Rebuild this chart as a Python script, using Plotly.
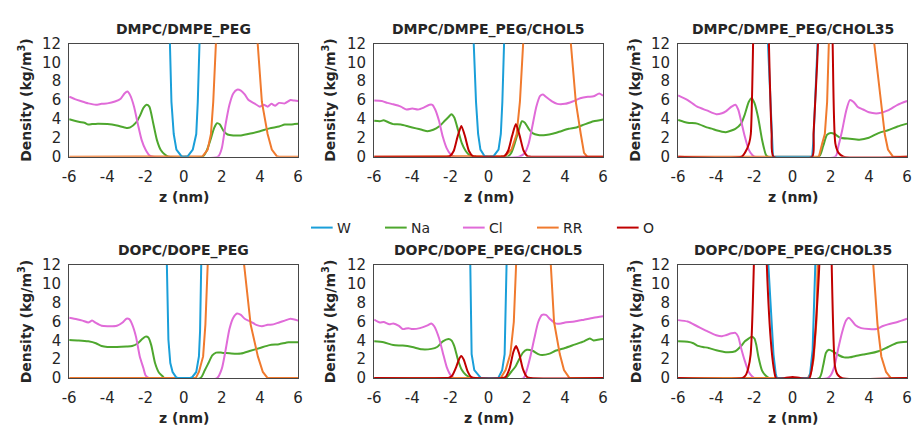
import plotly.graph_objects as go

# ---------------- data: density profiles, z in nm, density in kg/m^3 ----------------
# Panel titles
panel_titles = ["DMPC/DMPE_PEG", "DMPC/DMPE_PEG/CHOL5", "DMPC/DMPE_PEG/CHOL35",
                "DOPC/DOPE_PEG", "DOPC/DOPE_PEG/CHOL5", "DOPC/DOPE_PEG/CHOL35"]
series_names = ["W", "Na", "Cl", "RR", "O"]
draw_order = ["Na", "Cl", "RR", "W", "O"]
x_ticks = [-6, -4, -2, 0, 2, 4, 6]
x_tick_labels = ["-6", "-4", "-2", "0", "2", "4", "6"]
y_ticks = [0, 2, 4, 6, 8, 10, 12]

# --- DMPC/DMPE_PEG ---
p1_w_z = [-6, -1.2, -0.72, -0.64, -0.52, -0.38, -0.12, 0, 0.22, 0.48, 0.66, 0.74, 0.83, 1.3, 6]
p1_w = [30, 30, 12, 5.8, 2.4, 0.75, 0.05, 0, 0.05, 0.75, 2.4, 5.8, 12, 30, 30]
p1_na_z = [-6, -5.5, -5.2, -5.0, -4.8, -4.5, -4.0, -3.5, -3.0, -2.8, -2.5, -2.3, -2.1, -1.95, -1.8, -1.6,
           -1.4, -1.2, -1.0, -0.8, 1.0, 1.2, 1.4, 1.6, 1.75, 1.9, 2.1, 2.3, 2.6, 3.0, 3.5, 4.0, 4.5,
           5.0, 5.3, 5.6, 5.8, 6.0]
p1_na = [3.97, 3.7, 3.6, 3.4, 3.45, 3.5, 3.45, 3.3, 3.05, 3.1, 3.6, 4.3, 5.2, 5.5, 5.3, 3.6,
         1.75, 0.7, 0.25, 0, 0, 0.6, 1.75, 3.05, 3.55, 3.4, 2.7, 2.35, 2.25, 2.25, 2.45, 2.7, 3.0,
         3.2, 3.4, 3.4, 3.45, 3.5]
p1_cl_z = [-6, -5.7, -5.4, -5.0, -4.6, -4.3, -4.0, -3.6, -3.3, -3.1, -2.95, -2.8, -2.6, -2.4, -2.2,
           -2.0, -1.8, -1.6, 1.8, 2.0, 2.2, 2.4, 2.6, 2.8, 3.0, 3.2, 3.4, 3.7, 4.0, 4.2, 4.4, 4.6,
           4.8, 5.0, 5.3, 5.6, 5.8, 6.0]
p1_cl = [6.35, 6.1, 5.9, 5.65, 5.5, 5.6, 5.65, 5.85, 6.15, 6.7, 6.9, 6.5, 5.3, 3.45, 1.75,
         0.75, 0.15, 0, 0, 0.9, 3.45, 5.5, 6.7, 7.1, 7.0, 6.6, 6.0, 5.65, 5.3, 5.5, 5.3, 5.6,
         5.4, 5.7, 5.65, 6.0, 5.95, 5.9]
p1_rr_z = [-6, 0.95, 1.0, 1.26, 1.43, 1.55, 1.69, 1.8, 3.75, 3.88, 4.1, 4.4, 4.62, 4.88, 5.0, 6]
p1_rr = [0, 0, 0.05, 0.75, 2.4, 5.8, 12, 30, 30, 12, 5.8, 2.4, 0.75, 0.05, 0, 0]

# --- DMPC/DMPE_PEG/CHOL5 ---
p2_w_z = [-6, -1.2, -0.78, -0.66, -0.55, -0.43, -0.21, 0, 0.26, 0.52, 0.64, 0.72, 0.81, 1.2, 6]
p2_w = [30, 30, 12, 5.8, 2.4, 0.75, 0.05, 0, 0.05, 0.75, 2.4, 5.8, 12, 30, 30]
p2_na_z = [-6, -5.7, -5.5, -5.2, -5.0, -4.6, -4.2, -3.8, -3.5, -3.2, -2.9, -2.6, -2.3, -2.1, -1.95,
           -1.8, -1.6, -1.4, -1.2, -1.0, -0.8, 1.0, 1.2, 1.4, 1.6, 1.75, 1.9, 2.1, 2.3, 2.6, 3.0,
           3.4, 3.8, 4.2, 4.6, 5.0, 5.5, 6.0]
p2_na = [3.8, 3.75, 3.85, 3.6, 3.45, 3.4, 3.2, 3.0, 2.85, 2.7, 2.85, 3.2, 3.8, 4.2, 4.5,
         4.15, 2.8, 1.4, 0.6, 0.15, 0, 0, 0.45, 1.6, 2.95, 3.75, 3.6, 2.95, 2.5, 2.3, 2.3,
         2.45, 2.7, 2.95, 3.1, 3.4, 3.75, 3.95]
p2_cl_z = [-6, -5.6, -5.3, -5.0, -4.6, -4.3, -4.0, -3.7, -3.4, -3.1, -2.95, -2.8, -2.6, -2.4, -2.2,
           -2.0, -1.8, 1.6, 1.9, 2.1, 2.3, 2.5, 2.7, 2.85, 3.0, 3.3, 3.6, 4.0, 4.4, 4.8, 5.2, 5.5,
           5.8, 6.0]
p2_cl = [5.95, 5.9, 5.7, 5.55, 5.3, 5.0, 5.1, 5.0, 5.2, 5.5, 5.5, 5.0, 3.8, 2.1, 0.9,
         0.25, 0, 0, 0.4, 1.4, 3.3, 5.3, 6.45, 6.6, 6.35, 5.9, 5.6, 5.6, 5.85, 6.2, 6.35, 6.4,
         6.7, 6.45]
p2_rr_z = [-6, 0.75, 0.86, 1.2, 1.47, 1.64, 1.81, 1.95, 4.15, 4.31, 4.57, 4.83, 5.0, 5.17, 6]
p2_rr = [0, 0, 0.07, 0.75, 2.4, 5.8, 12, 30, 30, 12, 5.8, 2.4, 0.4, 0, 0]
p2_o_z = [-6, -2.2, -2.03, -1.83, -1.63, -1.43, -1.23, -1.03, -0.83, -0.65, 0.65, 0.83, 1.03,
          1.23, 1.43, 1.63, 1.83, 2.03, 2.2, 6]
p2_o = [0, 0, 0.06, 0.6, 2.1, 3.25, 2.1, 0.6, 0.06, 0, 0, 0.06, 0.65, 2.2, 3.45, 2.2, 0.65,
        0.06, 0, 0]

# --- DMPC/DMPE_PEG/CHOL35 ---
p3_w_z = [-6, -1.5, -1.29, -1.1, -1.03, 1.03, 1.1, 1.31, 1.5, 6]
p3_w = [30, 30, 12, 2, 0, 0, 2, 12, 30, 30]
p3_na_z = [-6, -5.5, -5.0, -4.5, -4.2, -4.0, -3.5, -3.0, -2.7, -2.5, -2.3, -2.15, -2.0, -1.8, -1.6,
           -1.4, -1.3, 1.38, 1.6, 1.8, 2.0, 2.2, 2.5, 3.0, 3.5, 4.0, 4.5, 5.0, 5.5, 6.0]
p3_na = [3.9, 3.6, 3.5, 3.1, 2.95, 2.8, 2.6, 2.95, 3.5, 4.5, 5.8, 6.2, 5.7, 4.1, 1.8,
         0.2, 0, 0, 1.1, 2.3, 2.5, 2.4, 2.0, 1.9, 1.8, 2.0, 2.5, 2.8, 3.2, 3.5]
p3_cl_z = [-6, -5.5, -5.0, -4.5, -4.0, -3.7, -3.5, -3.2, -3.0, -2.85, -2.7, -2.5, -2.3, -2.1, -2.0,
           2.24, 2.4, 2.6, 2.8, 3.0, 3.2, 3.4, 3.7, 4.0, 4.5, 5.0, 5.5, 6.0]
p3_cl = [6.5, 6.0, 5.3, 4.9, 4.5, 4.6, 4.8, 5.3, 5.5, 5.0, 3.8, 2.1, 0.75, 0.15, 0,
         0, 1.1, 2.8, 4.8, 6.0, 5.8, 5.3, 5.0, 4.7, 4.6, 4.9, 5.5, 5.9]
p3_rr_z = [-6, 1.38, 1.55, 1.69, 1.81, 1.9, 2.05, 4.12, 4.28, 4.45, 4.62, 4.83, 5.0, 5.26, 6]
p3_rr = [0, 0, 1.4, 2.4, 5.8, 12, 30, 30, 12, 9.2, 5.8, 2.4, 0.75, 0, 0]
p3_o_z = [-6, -2.67, -2.5, -2.28, -2.19, -2.07, -1.95, -1.4, -1.24, -1.1, -1.0, 1.03, 1.1, 1.33,
          1.45, 1.95, 2.1, 2.24, 2.41, 2.67, 6]
p3_o = [0, 0, 0.4, 1.4, 2.4, 12, 30, 30, 12, 2.5, 0, 0, 2.5, 12, 30, 30, 12, 1.4, 0.4, 0, 0]

# --- DOPC/DOPE_PEG ---
p4_w_z = [-6, -1.3, -0.88, -0.8, -0.7, -0.58, -0.4, -0.3, 0.3, 0.45, 0.66, 0.8, 0.86, 0.92, 1.3, 6]
p4_w = [30, 30, 12, 4.1, 1.6, 0.65, 0.1, 0, 0, 0.1, 0.65, 2.3, 5, 12, 30, 30]
p4_na_z = [-6, -5.5, -5.0, -4.6, -4.3, -4.0, -3.5, -3.0, -2.7, -2.4, -2.2, -2.0, -1.85, -1.7, -1.5,
           -1.3, -1.1, -1.0, 0.88, 1.1, 1.3, 1.5, 1.7, 2.0, 2.5, 3.0, 3.5, 4.0, 4.5, 5.0, 5.5, 6.0]
p4_na = [4.05, 4.0, 3.9, 3.7, 3.4, 3.3, 3.3, 3.35, 3.4, 3.7, 4.1, 4.4, 4.3, 3.5, 1.6,
         0.6, 0.2, 0, 0, 0.8, 1.6, 2.4, 2.7, 2.7, 2.6, 2.6, 2.9, 3.2, 3.5, 3.6, 3.8, 3.8]
p4_cl_z = [-6, -5.6, -5.3, -5.0, -4.8, -4.6, -4.3, -4.0, -3.5, -3.2, -3.0, -2.85, -2.7, -2.5, -2.3,
           -2.1, -2.0, -1.8, 1.75, 2.0, 2.2, 2.4, 2.6, 2.8, 3.0, 3.2, 3.5, 3.8, 4.1, 4.4, 4.7, 5.0,
           5.3, 5.6, 6.0]
p4_cl = [6.4, 6.25, 6.1, 5.9, 6.1, 5.85, 5.55, 5.5, 5.55, 5.9, 6.3, 6.25, 5.7, 4.4, 2.3,
         1.0, 0.3, 0, 0, 1.0, 3.0, 5.2, 6.4, 6.85, 6.7, 6.3, 6.0, 5.65, 5.5, 5.65, 5.7, 5.9,
         6.1, 6.3, 6.1]
p4_rr_z = [-6, 0.63, 0.8, 1.02, 1.14, 1.26, 1.4, 3.05, 3.17, 3.51, 3.89, 4.15, 4.4, 6]
p4_rr = [0, 0, 0.65, 2.3, 5.7, 12, 30, 30, 12, 5.7, 2.3, 0.65, 0, 0]

# --- DOPC/DOPE_PEG/CHOL5 ---
p5_w_z = [-6, -1.3, -0.96, -0.89, -0.75, -0.49, -0.4, 0.5, 0.71, 0.84, 0.94, 1.3, 6]
p5_w = [30, 30, 12, 2.55, 0.85, 0.17, 0, 0, 0.85, 2.55, 12, 30, 30]
p5_na_z = [-6, -5.5, -5.0, -4.5, -4.0, -3.5, -3.0, -2.7, -2.4, -2.1, -1.95, -1.8, -1.6, -1.4, -1.2,
           -1.0, -0.9, 0.9, 1.2, 1.4, 1.6, 1.8, 2.0, 2.3, 2.6, 2.8, 3.2, 3.5, 4.0, 4.5, 5.0, 5.3,
           5.5, 5.8, 6.0]
p5_na = [3.9, 3.8, 3.5, 3.45, 3.3, 3.05, 3.1, 3.3, 3.9, 4.15, 4.0, 3.4, 1.9, 0.85, 0.35,
         0.1, 0, 0, 0.7, 1.2, 2.0, 2.7, 3.0, 2.9, 2.55, 2.45, 2.6, 2.9, 3.2, 3.55, 3.9, 4.2,
         4.0, 4.1, 4.15]
p5_cl_z = [-6, -5.7, -5.5, -5.2, -5.0, -4.7, -4.5, -4.2, -4.0, -3.6, -3.2, -3.0, -2.85, -2.6, -2.4,
           -2.2, -2.0, -1.8, 1.83, 2.0, 2.2, 2.4, 2.6, 2.8, 3.0, 3.2, 3.5, 3.8, 4.0, 4.5, 5.0, 5.5,
           6.0]
p5_cl = [6.2, 5.9, 5.95, 5.7, 5.8, 5.55, 5.2, 5.3, 5.2, 5.3, 5.6, 5.8, 5.5, 4.25, 2.7,
         1.2, 0.35, 0, 0, 0.85, 2.4, 4.25, 5.95, 6.7, 6.7, 6.3, 5.8, 5.8, 5.9, 6.0, 6.2, 6.4,
         6.55]
p5_rr_z = [-6, 0.63, 0.89, 1.14, 1.32, 1.44, 1.6, 3.1, 3.26, 3.43, 3.73, 3.95, 4.24, 6]
p5_rr = [0, 0, 0.85, 2.55, 5.95, 12, 30, 30, 12, 5.95, 2.55, 0.85, 0, 0]
p5_o_z = [-6, -2.2, -2.1, -1.9, -1.7, -1.55, -1.44, -1.3, -1.1, -0.9, -0.7, 0.7, 0.9, 1.1, 1.3,
          1.44, 1.6, 1.8, 2.0, 2.2, 6]
p5_o = [0, 0, 0.03, 0.3, 1.17, 2.0, 2.35, 1.95, 0.72, 0.1, 0, 0, 0.15, 1.03, 2.8, 3.4, 2.6,
        0.95, 0.15, 0, 0]

# --- DOPC/DOPE_PEG/CHOL35 ---
p6_w_z = [-6, -1.5, -1.27, -1.0, -0.88, -0.82, 0.85, 0.92, 1.05, 1.19, 1.4, 6]
p6_w = [30, 30, 12, 2.5, 0.4, 0, 0, 0.5, 3, 12, 30, 30]
p6_na_z = [-6, -5.5, -5.2, -5.0, -4.7, -4.4, -4.0, -3.5, -3.0, -2.7, -2.5, -2.3, -2.15, -2.0, -1.9,
           -1.8, -1.6, -1.4, -1.2, 1.4, 1.6, 1.75, 1.9, 2.1, 2.4, 2.7, 3.0, 3.3, 3.7, 4.0, 4.5,
           5.0, 5.5, 6.0]
p6_na = [3.9, 3.85, 3.7, 3.45, 3.3, 3.2, 2.95, 2.75, 2.85, 3.4, 3.9, 4.2, 4.4, 4.2, 3.5,
         2.35, 0.8, 0.25, 0, 0, 1.3, 2.7, 3.0, 2.85, 2.45, 2.2, 2.2, 2.35, 2.5, 2.6, 2.85,
         3.3, 3.75, 3.85]
p6_cl_z = [-6, -5.5, -5.0, -4.5, -4.0, -3.7, -3.5, -3.2, -3.0, -2.85, -2.7, -2.5, -2.3, -2.1, -2.0,
           1.83, 2.0, 2.2, 2.4, 2.6, 2.8, 2.95, 3.1, 3.3, 3.6, 4.0, 4.4, 4.7, 5.0, 5.5, 6.0]
p6_cl = [6.15, 6.0, 5.5, 5.0, 4.55, 4.45, 4.55, 4.75, 4.8, 4.4, 3.2, 1.8, 0.65, 0.15, 0,
         0, 0.3, 1.3, 3.2, 4.9, 6.1, 6.4, 6.1, 5.6, 5.3, 5.2, 5.2, 5.5, 5.7, 5.95, 6.3]
p6_rr_z = [-6, 0.8, 0.95, 1.1, 1.25, 1.35, 1.5, 4.1, 4.23, 4.45, 4.65, 4.9, 5.15, 6]
p6_rr = [0, 0, 0.5, 2, 6, 12, 30, 30, 12, 5.7, 2.3, 0.65, 0, 0]
p6_o_z = [-6, -2.64, -2.46, -2.33, -2.2, -2.03, -1.9, -1.5, -1.35, -1.1, -0.95, -0.87, -0.4, 0,
          0.4, 0.88, 0.95, 1.1, 1.4, 1.5, 1.95, 2.05, 2.22, 2.35, 2.6, 6]
p6_o = [0, 0, 0.3, 1.0, 2.5, 12, 30, 30, 12, 3, 0.6, 0, 0, 0.12, 0, 0, 0.4, 2.5, 12, 30,
        30, 12, 1.3, 0.4, 0, 0]

panels = [
    {"W": (p1_w_z, p1_w), "Na": (p1_na_z, p1_na), "Cl": (p1_cl_z, p1_cl), "RR": (p1_rr_z, p1_rr)},
    {"W": (p2_w_z, p2_w), "Na": (p2_na_z, p2_na), "Cl": (p2_cl_z, p2_cl), "RR": (p2_rr_z, p2_rr),
     "O": (p2_o_z, p2_o)},
    {"W": (p3_w_z, p3_w), "Na": (p3_na_z, p3_na), "Cl": (p3_cl_z, p3_cl), "RR": (p3_rr_z, p3_rr),
     "O": (p3_o_z, p3_o)},
    {"W": (p4_w_z, p4_w), "Na": (p4_na_z, p4_na), "Cl": (p4_cl_z, p4_cl), "RR": (p4_rr_z, p4_rr)},
    {"W": (p5_w_z, p5_w), "Na": (p5_na_z, p5_na), "Cl": (p5_cl_z, p5_cl), "RR": (p5_rr_z, p5_rr),
     "O": (p5_o_z, p5_o)},
    {"W": (p6_w_z, p6_w), "Na": (p6_na_z, p6_na), "Cl": (p6_cl_z, p6_cl), "RR": (p6_rr_z, p6_rr),
     "O": (p6_o_z, p6_o)},
]

# ---------------- styling ----------------
colors = {"W": "#1a9fd9", "Na": "#4ea72e", "Cl": "#e06bd8", "RR": "#f07a2e", "O": "#c00000"}
smooth = {"W": "linear", "Na": "spline", "Cl": "spline", "RR": "linear", "O": "spline"}
FONT = "DejaVu Sans, Verdana, sans-serif"
TXT = "#262626"
FW, FH = 917, 436

col_px = [(63, 295), (372, 604), (680, 912)]
row_px = [(36, 154), (267, 385)]
ytitle_px = [18, 326, 636]
# legend key: line start pixel for each series, row centre
legend_x_px = [308, 383, 462, 537, 618]
legend_y_px = 228


def px_x(p):
    return p / FW


def px_y(p):
    return 1 - p / FH


fig = go.Figure()
annotations = []
shapes = []
layout_axes = {}

for i, data in enumerate(panels):
    r, c = divmod(i, 3)
    n = i + 1
    xa = "x" if n == 1 else f"x{n}"
    ya = "y" if n == 1 else f"y{n}"
    for name in draw_order:
        if name not in data:
            continue
        z, v = data[name]
        fig.add_trace(go.Scatter(
            x=z, y=v, mode="lines", name=name, showlegend=False,
            line=dict(color=colors[name], width=2, shape=smooth[name], smoothing=0.6),
            xaxis=xa, yaxis=ya, hoverinfo="skip"))

    l, rr = col_px[c]
    t, b = row_px[r]
    common = dict(showgrid=False, zeroline=False, showline=True, mirror=True,
                  linecolor="#474747", linewidth=1, ticks="", layer="below traces",
                  tickfont=dict(family=FONT, size=15, color=TXT))
    layout_axes["xaxis" if n == 1 else f"xaxis{n}"] = dict(
        common, domain=[px_x(l), px_x(rr)], range=[-6, 6], tickvals=x_ticks,
        ticktext=x_tick_labels, anchor=ya, ticklabelstandoff=6)
    layout_axes["yaxis" if n == 1 else f"yaxis{n}"] = dict(
        common, domain=[px_y(b), px_y(t)], range=[0, 12], tickvals=y_ticks,
        anchor=xa, ticklabelstandoff=4)

    cx = px_x((l + rr) / 2)
    annotations.append(dict(text=f"<b>{panel_titles[i]}</b>", x=cx, y=px_y(t - 15),
                            xref="paper", yref="paper", showarrow=False,
                            xanchor="center", yanchor="middle",
                            font=dict(family=FONT, size=14, color=TXT)))
    annotations.append(dict(text="<b>z (nm)</b>", x=cx, y=px_y(b + 42),
                            xref="paper", yref="paper", showarrow=False,
                            xanchor="center", yanchor="middle",
                            font=dict(family=FONT, size=14, color=TXT)))
    annotations.append(dict(text="<b>Density (kg/m<sup>3</sup>)</b>", x=px_x(ytitle_px[c]),
                            y=px_y((t + b) / 2), xref="paper", yref="paper",
                            showarrow=False, textangle=-90,
                            xanchor="center", yanchor="middle",
                            font=dict(family=FONT, size=14, color=TXT)))

# Series key drawn as a row of short line samples with labels
for name, lx in zip(series_names, legend_x_px):
    shapes.append(dict(type="line", xref="paper", yref="paper",
                       x0=px_x(lx), x1=px_x(lx + 22), y0=px_y(legend_y_px), y1=px_y(legend_y_px),
                       line=dict(color=colors[name], width=2)))
    annotations.append(dict(text=name, x=px_x(lx + 24), y=px_y(legend_y_px),
                            xref="paper", yref="paper", showarrow=False,
                            xanchor="left", yanchor="middle",
                            font=dict(family=FONT, size=14, color=TXT)))

fig.update_layout(
    width=FW, height=FH, margin=dict(l=0, r=0, t=0, b=0),
    paper_bgcolor="white", plot_bgcolor="white",
    showlegend=False, annotations=annotations, shapes=shapes,
    **layout_axes)

fig.write_html("out.html")
